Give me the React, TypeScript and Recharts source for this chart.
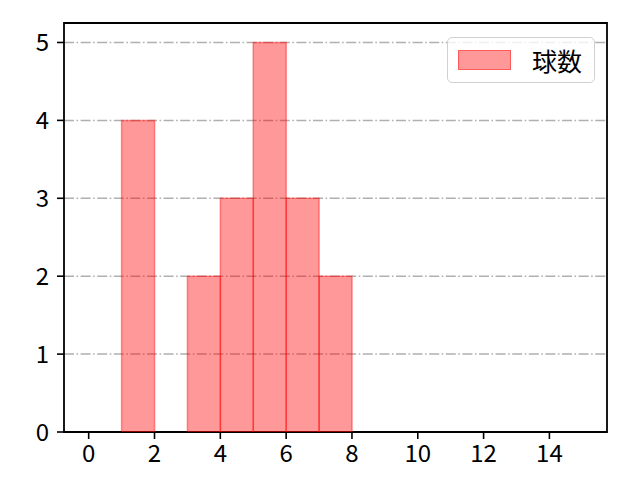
import {
  ComposedChart,
  Bar,
  XAxis,
  YAxis,
  CartesianGrid,
  Legend,
  ReferenceArea,
} from 'recharts'

// histogram bins (centre of each unit-wide bin) and counts
const binCentres = [0.5, 1.5, 2.5, 3.5, 4.5, 5.5, 6.5, 7.5, 8.5, 9.5, 10.5, 11.5, 12.5, 13.5, 14.5]
const counts = [0, 4, 0, 2, 3, 5, 3, 2, 0, 0, 0, 0, 0, 0, 0]
const xTicks = [0, 2, 4, 6, 8, 10, 12, 14]
const yTicks = [0, 1, 2, 3, 4, 5]
const seriesName = '球数'

const xRange: [number, number] = [-0.75, 15.75]
const yRange: [number, number] = [0, 5.25]

const data = binCentres.map((c, i) => ({ x: c, count: counts[i] }))

const FONT = '"Noto Sans CJK JP", "DejaVu Sans", sans-serif'
const tickStyle = { fontSize: 24, fill: '#000', fontFamily: FONT }

function LegendBox() {
  return (
    <div
      style={{
        width: 148,
        height: 46,
        border: '1.5px solid #d0d0d0',
        borderRadius: 5,
        background: 'rgba(255,255,255,0.8)',
        display: 'flex',
        alignItems: 'center',
        boxSizing: 'border-box',
        fontFamily: FONT,
        fontSize: 25,
        color: '#000',
      }}
    >
      <div
        style={{
          marginLeft: 10,
          width: 53,
          height: 20,
          background: 'rgba(255,0,0,0.4)',
          border: '1px solid rgba(255,0,0,0.4)',
          boxSizing: 'border-box',
        }}
      />
      <span style={{ marginLeft: 21, lineHeight: 1 }}>{seriesName}</span>
    </div>
  )
}

export default function App() {
  return (
    <div style={{ position: 'absolute', left: 0, top: 0 }}>
      <ComposedChart
        width={640}
        height={480}
        data={data}
        margin={{ top: 23, right: 33, bottom: 0, left: 0 }}
        barCategoryGap={0}
        barGap={0}
      >
        <CartesianGrid
          vertical={false}
          horizontalValues={yTicks.slice(1)}
          stroke="#b0b0b0"
          strokeWidth={1.5}
          strokeDasharray="10 2.5 1.6 2.5"
        />
        <XAxis
          dataKey="x"
          type="number"
          domain={xRange}
          ticks={xTicks}
          allowDataOverflow
          height={48}
          tick={tickStyle}
          tickSize={7}
          tickMargin={6}
          axisLine={false}
          tickLine={{ stroke: '#000', strokeWidth: 1.6 }}
        />
        <YAxis
          type="number"
          domain={yRange}
          ticks={yTicks}
          allowDataOverflow
          width={64}
          tick={tickStyle}
          tickSize={7}
          tickMargin={8}
          axisLine={false}
          tickLine={{ stroke: '#000', strokeWidth: 1.6 }}
        />
        <Bar
          dataKey="count"
          name={seriesName}
          fill="red"
          fillOpacity={0.4}
          stroke="red"
          strokeOpacity={0.4}
          strokeWidth={1.5}
          isAnimationActive={false}
        />
        <ReferenceArea
          x1={xRange[0]}
          x2={xRange[1]}
          y1={yRange[0]}
          y2={yRange[1]}
          ifOverflow="visible"
          fill="none"
          stroke="#000"
          strokeWidth={1.8}
        />
        <Legend
          layout="horizontal"
          verticalAlign="middle"
          align="center"
          content={() => <LegendBox />}
          wrapperStyle={{ position: 'absolute', left: 447, top: 37, width: 148 }}
        />
      </ComposedChart>
    </div>
  )
}
